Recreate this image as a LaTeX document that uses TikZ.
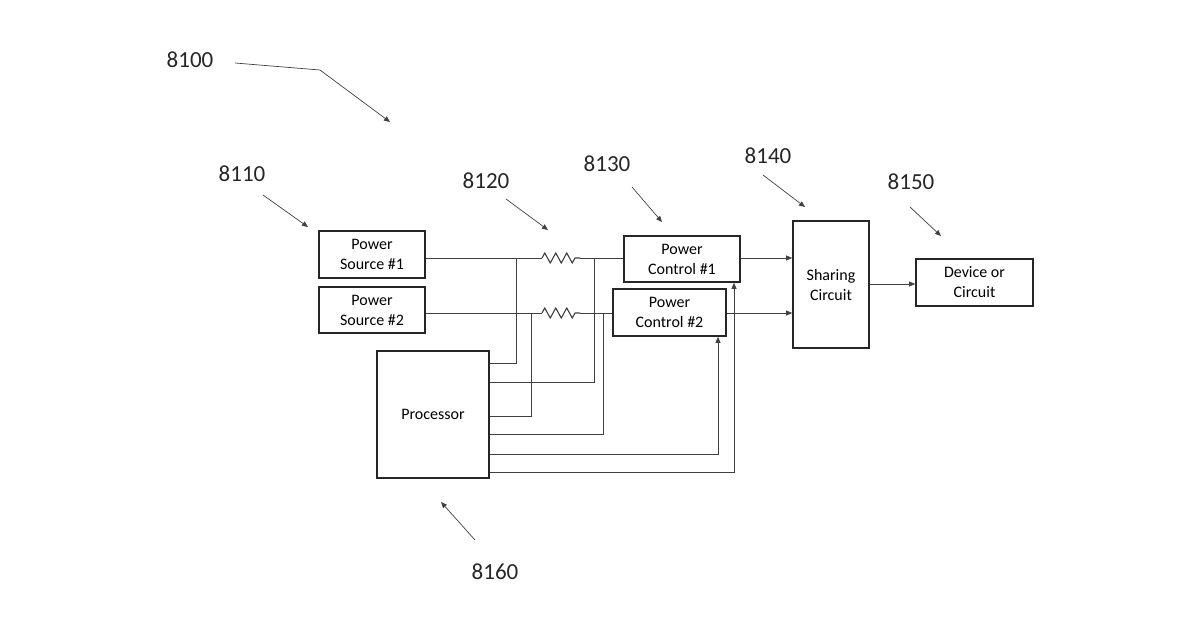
\documentclass[tikz,border=0pt]{standalone}
\usepackage{fontspec}
\setmainfont{Carlito}
\usetikzlibrary{arrows.meta,decorations.pathmorphing}
\begin{document}
\begin{tikzpicture}[x=1pt,y=-1pt,
  box/.style={draw=black!85,line width=1.6pt,align=center,font=\fontsize{16}{20}\selectfont,inner sep=0pt},
  wire/.style={draw=black!75,line width=0.7pt},
  arr/.style={wire,-{Triangle[length=6pt,width=5pt]}},
  lbl/.style={font=\fontsize{23}{26}\selectfont,text=black!85},
  res/.style={wire,line width=1.1pt,decorate,decoration={zigzag,segment length=11pt,amplitude=5pt}}]
\useasboundingbox (0,0) rectangle (1200,630);
\node[box,minimum width=106pt,minimum height=47pt] (ps1) at (372,254.5) {Power\\Source \#1};
\node[box,minimum width=106pt,minimum height=46pt] (ps2) at (372,310) {Power\\Source \#2};
\node[box,minimum width=112pt,minimum height=127pt] (proc) at (433,414.5) {Processor};
\node[box,minimum width=116pt,minimum height=46pt] (pc1) at (682,259) {Power\\Control \#1};
\node[box,minimum width=113pt,minimum height=47pt] (pc2) at (669.5,312.5) {Power\\Control \#2};
\node[box,minimum width=76pt,minimum height=127pt] (sh) at (831,284.5) {Sharing\\Circuit};
\node[box,minimum width=117pt,minimum height=47pt] (dev) at (974.5,282.5) {Device or\\Circuit};
\coordinate (r1a) at (542,258); \coordinate (r1b) at (580,258);
\coordinate (r2a) at (542,313); \coordinate (r2b) at (580,313);
\draw[wire] (ps1.east |- r1a) -- (r1a);
\draw[res] (r1a) -- (r1b);
\draw[wire] (r1b) -- (pc1.west |- r1b);
\draw[wire] (ps2.east |- r2a) -- (r2a);
\draw[res] (r2a) -- (r2b);
\draw[wire] (r2b) -- (pc2.west |- r2b);
\draw[wire] (516,258) -- (516,363) -- (proc.east |- 0,363);
\draw[wire] (594,258) -- (594,382) -- (proc.east |- 0,382);
\draw[wire] (531,313) -- (531,416) -- (proc.east |- 0,416);
\draw[wire] (603,313) -- (603,434) -- (proc.east |- 0,434);
\draw[arr] (proc.east |- 0,454) -- (718,454) -- (pc2.south -| 718,0);
\draw[arr] (proc.east |- 0,472) -- (734,472) -- (pc1.south -| 734,0);
\draw[arr] (pc1.east |- 0,258) -- (sh.west |- 0,258);
\draw[arr] (pc2.east |- 0,313) -- (sh.west |- 0,313);
\draw[arr] (sh.east |- 0,284) -- (dev.west |- 0,284);
\node[lbl] (l8100) at (190,60) {8100};
\node[lbl] (l8110) at (242,174) {8110};
\node[lbl] (l8120) at (486,181) {8120};
\node[lbl] (l8130) at (607,164) {8130};
\node[lbl] (l8140) at (768,156) {8140};
\node[lbl] (l8150) at (911,182) {8150};
\node[lbl] (l8160) at (495,572) {8160};
\coordinate (a0) at (235,63); \coordinate (a0m) at (320,70); \coordinate (a0e) at (390,122);
\draw[arr] (a0) -- (a0m) -- (a0e);
\coordinate (a1s) at (263,195); \coordinate (a1e) at (308,227); \draw[arr] (a1s) -- (a1e);
\coordinate (a2s) at (506,199); \coordinate (a2e) at (548,230); \draw[arr] (a2s) -- (a2e);
\coordinate (a3s) at (632,187); \coordinate (a3e) at (662,222); \draw[arr] (a3s) -- (a3e);
\coordinate (a4s) at (763,175); \coordinate (a4e) at (805,207); \draw[arr] (a4s) -- (a4e);
\coordinate (a5s) at (910,207); \coordinate (a5e) at (941,236); \draw[arr] (a5s) -- (a5e);
\coordinate (a6s) at (475,540); \coordinate (a6e) at (441,502); \draw[arr] (a6s) -- (a6e);
\end{tikzpicture}
\end{document}
